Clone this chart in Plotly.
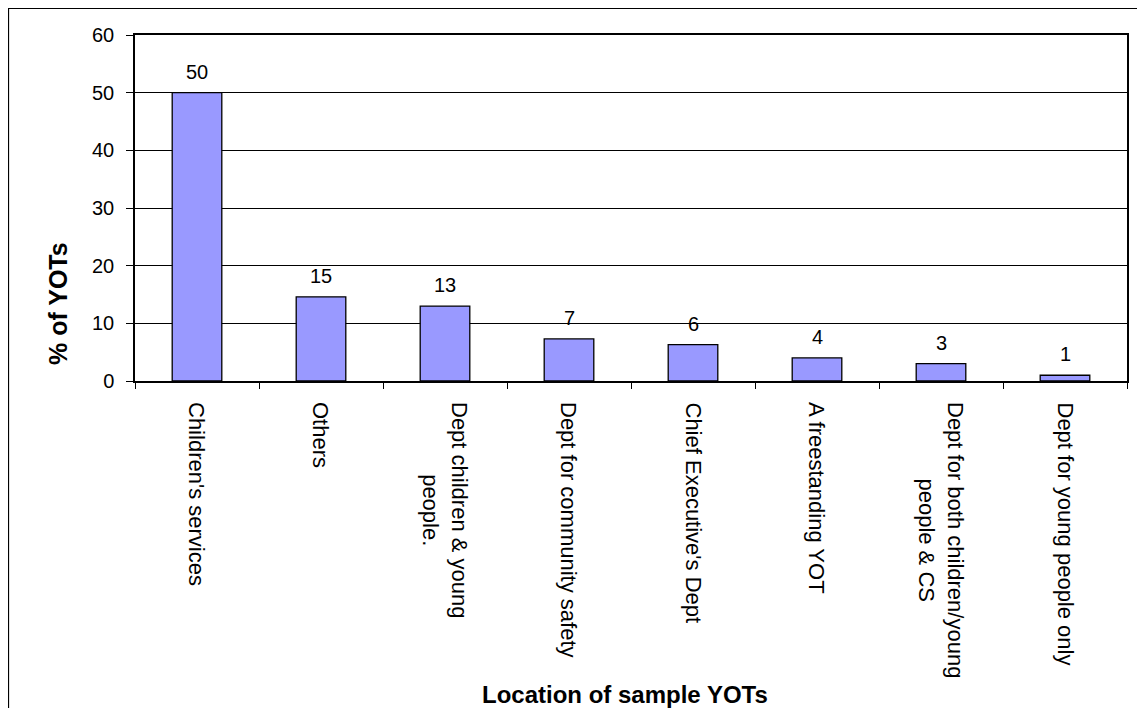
import plotly.graph_objects as go

categories = [
    "Children's services",
    "Others",
    "Dept children & young people.",
    "Dept for community safety",
    "Chief Executive's Dept",
    "A freestanding YOT",
    "Dept for both children/young people & CS",
    "Dept for young people only",
]
category_labels = [
    "Children's services",
    "Others",
    "Dept children & young<br>people.",
    "Dept for community safety",
    "Chief Executive's Dept",
    "A freestanding YOT",
    "Dept for both children/young<br>people & CS",
    "Dept for young people only",
]
values = [50, 14.6, 13, 7.3, 6.3, 4, 3, 1]
y_ticks = [0, 10, 20, 30, 40, 50, 60]

FONT = "Liberation Sans, Arial, sans-serif"

fig = go.Figure()
fig.add_trace(go.Bar(
    x=categories, y=values, width=0.4,
    marker=dict(color="#9999FF", line=dict(color="black", width=1.3)),
    hoverinfo="skip",
))

# value labels above bars
for c, v in zip(categories, values):
    fig.add_annotation(x=c, y=v, xref="x", yref="y", text=f"{v:.0f}",
                       showarrow=False, xanchor="center", yanchor="middle", yshift=21,
                       font=dict(family=FONT, size=20, color="black"))

# rotated category labels (centered multi-line)
for c, lab in zip(categories, category_labels):
    fig.add_annotation(x=c, y=0, xref="x", yref="paper", text=lab,
                       textangle=90, showarrow=False, align="center",
                       xanchor="center", yanchor="top", yshift=-19,
                       font=dict(family=FONT, size=22, color="black"))

fig.add_annotation(x=-0.0776, y=0.2225, xref="paper", yref="paper",
                   text="<b>% of YOTs</b>", textangle=-90, showarrow=False,
                   xanchor="center", yanchor="middle",
                   font=dict(family=FONT, size=25, color="black"))
fig.add_annotation(x=0.494, y=-0.9075, xref="paper", yref="paper",
                   text="<b>Location of sample YOTs</b>", showarrow=False,
                   xanchor="center", yanchor="middle",
                   font=dict(family=FONT, size=24, color="black"))

fig.add_shape(type="rect", xref="paper", yref="paper",
              x0=-0.1275, x1=1.2, y0=-1.2, y1=1.077,
              line=dict(color="black", width=1.2), fillcolor="rgba(0,0,0,0)")

fig.update_layout(
    width=1145, height=708,
    margin=dict(l=127, r=26, t=27, b=335),
    paper_bgcolor="white", plot_bgcolor="white",
    showlegend=False, bargap=0.6,
    font=dict(family=FONT, size=20, color="black"),
)
fig.update_xaxes(
    type="category", showline=True, linecolor="black", linewidth=1.5, mirror=True,
    ticks="outside", tickson="boundaries", ticklen=6, tickcolor="black",
    showticklabels=False, showgrid=False,
)
fig.update_yaxes(
    range=[0, 60], tickvals=y_ticks, showline=True, linecolor="black", linewidth=1.5,
    mirror=True, ticks="outside", ticklen=7, tickcolor="black",
    tickfont=dict(family=FONT, size=20, color="black"),
    showgrid=True, gridcolor="black", gridwidth=1, zeroline=False,
    ticklabelstandoff=8,
)

fig.write_html("out.html")
